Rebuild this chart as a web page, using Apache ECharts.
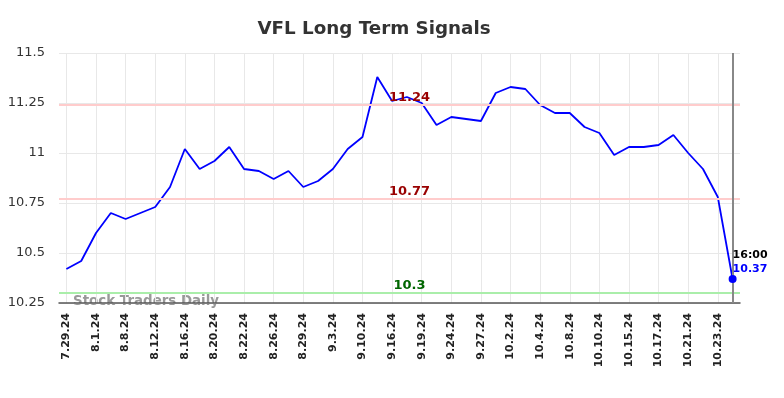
<!DOCTYPE html>
<html>
<head>
<meta charset="utf-8">
<script src="https://cdn.jsdelivr.net/npm/echarts@6/dist/echarts.min.js"></script>
<style>
  html, body { margin: 0; padding: 0; background: #fff; }
  #main { width: 784px; height: 398px; }
</style>
</head>
<body>
<div id="main"></div>
<script>
var dates = [
  "7.29.24", "7.31.24", "8.1.24", "8.6.24", "8.8.24", "8.9.24", "8.12.24", "8.14.24",
  "8.16.24", "8.19.24", "8.20.24", "8.21.24", "8.22.24", "8.23.24", "8.26.24", "8.27.24",
  "8.29.24", "8.30.24", "9.3.24", "9.6.24", "9.10.24", "9.12.24", "9.16.24", "9.18.24",
  "9.19.24", "9.23.24", "9.24.24", "9.25.24", "9.27.24", "9.30.24", "10.2.24", "10.3.24",
  "10.4.24", "10.7.24", "10.8.24", "10.9.24", "10.10.24", "10.14.24", "10.15.24", "10.16.24",
  "10.17.24", "10.18.24", "10.21.24", "10.22.24", "10.23.24", "10.25.24"
];
var prices = [
  10.42, 10.46, 10.60, 10.70, 10.67, 10.70, 10.73, 10.83,
  11.02, 10.92, 10.96, 11.03, 10.92, 10.91, 10.87, 10.91,
  10.83, 10.86, 10.92, 11.02, 11.08, 11.38, 11.26, 11.28,
  11.25, 11.14, 11.18, 11.17, 11.16, 11.30, 11.33, 11.32,
  11.24, 11.20, 11.20, 11.13, 11.10, 10.99, 11.03, 11.03,
  11.04, 11.09, 11.00, 10.92, 10.78, 10.37
];
var upperSignal = 11.24;
var midSignal = 10.77;
var lowerSignal = 10.3;
var yTicks = [10.25, 10.5, 10.75, 11, 11.25, 11.5];

var lastIdx = prices.length - 1;
var myChart = echarts.init(document.getElementById("main"));
myChart.setOption({
  animation: false,
  title: {
    text: "VFL Long Term Signals",
    left: 369,
    textAlign: "center",
    top: 15,
    textStyle: { fontSize: 18.3, fontWeight: "bold", color: "#333", fontFamily: "DejaVu Sans" },
  },
  grid: { left: 59, right: 44, top: 53, bottom: 95 },
  xAxis: {
    type: "category",
    data: dates,
    boundaryGap: true,
    axisLine: { show: true, lineStyle: { color: "#555", width: 1.5 } },
    axisTick: { show: false },
    axisLabel: {
      interval: 1,
      rotate: 90,
      fontSize: 11,
      fontWeight: "bold",
      color: "#222",
      fontFamily: "DejaVu Sans",
      margin: 10,
    },
    splitLine: { show: true, interval: 1, alignWithLabel: true, lineStyle: { color: "#e8e8e8", width: 1 } },
  },
  yAxis: {
    type: "value",
    min: yTicks[0],
    max: yTicks[yTicks.length - 1],
    interval: 0.25,
    axisLine: { show: false },
    axisTick: { show: false },
    axisLabel: { fontSize: 13, color: "#333", fontFamily: "DejaVu Sans", margin: 14 },
    splitLine: { lineStyle: { color: "#e8e8e8", width: 1 } },
  },
  graphic: [
    {
      type: "text",
      left: 73,
      top: 295,
      style: { text: "Stock Traders Daily", fill: "#999", font: "bold 13.4px DejaVu Sans" },
    },
  ],
  series: [
    {
      type: "line",
      data: prices,
      symbol: "none",
      lineStyle: { color: "#0000ff", width: 1.8 },
      markLine: {
        symbol: "none",
        silent: true,
        data: [
          {
            yAxis: upperSignal,
            lineStyle: { color: "#ffcccc", width: 2, type: "solid" },
            label: { position: "middle", formatter: "11.24", color: "#990000", fontWeight: "bold", fontSize: 13, fontFamily: "DejaVu Sans", offset: [10, 0], distance: 1 },
          },
          {
            yAxis: midSignal,
            lineStyle: { color: "#ffcccc", width: 2, type: "solid" },
            label: { position: "middle", formatter: "10.77", color: "#990000", fontWeight: "bold", fontSize: 13, fontFamily: "DejaVu Sans", offset: [10, 0], distance: 1 },
          },
          {
            yAxis: lowerSignal,
            lineStyle: { color: "#aaeeaa", width: 2, type: "solid" },
            label: { position: "middle", formatter: "10.3", color: "#006600", fontWeight: "bold", fontSize: 13, fontFamily: "DejaVu Sans", offset: [10, 0], distance: 1 },
          },
          {
            xAxis: lastIdx,
            lineStyle: { color: "#888", width: 2, type: "solid" },
            label: { show: false },
          },
        ],
      },
      markPoint: {
        symbol: "circle",
        symbolSize: 8,
        itemStyle: { color: "#0000ff" },
        data: [
          {
            coord: [lastIdx, prices[lastIdx]],
            label: {
              show: true,
              position: [4, -27],
              formatter: "{a|16:00}\n{b|" + prices[lastIdx] + "}",
              rich: {
                a: { color: "#000", fontWeight: "bold", fontSize: 11, fontFamily: "DejaVu Sans", lineHeight: 14 },
                b: { color: "#0000ff", fontWeight: "bold", fontSize: 11, fontFamily: "DejaVu Sans", lineHeight: 14 },
              },
            },
          },
        ],
      },
    },
  ],
});
</script>
</body>
</html>
